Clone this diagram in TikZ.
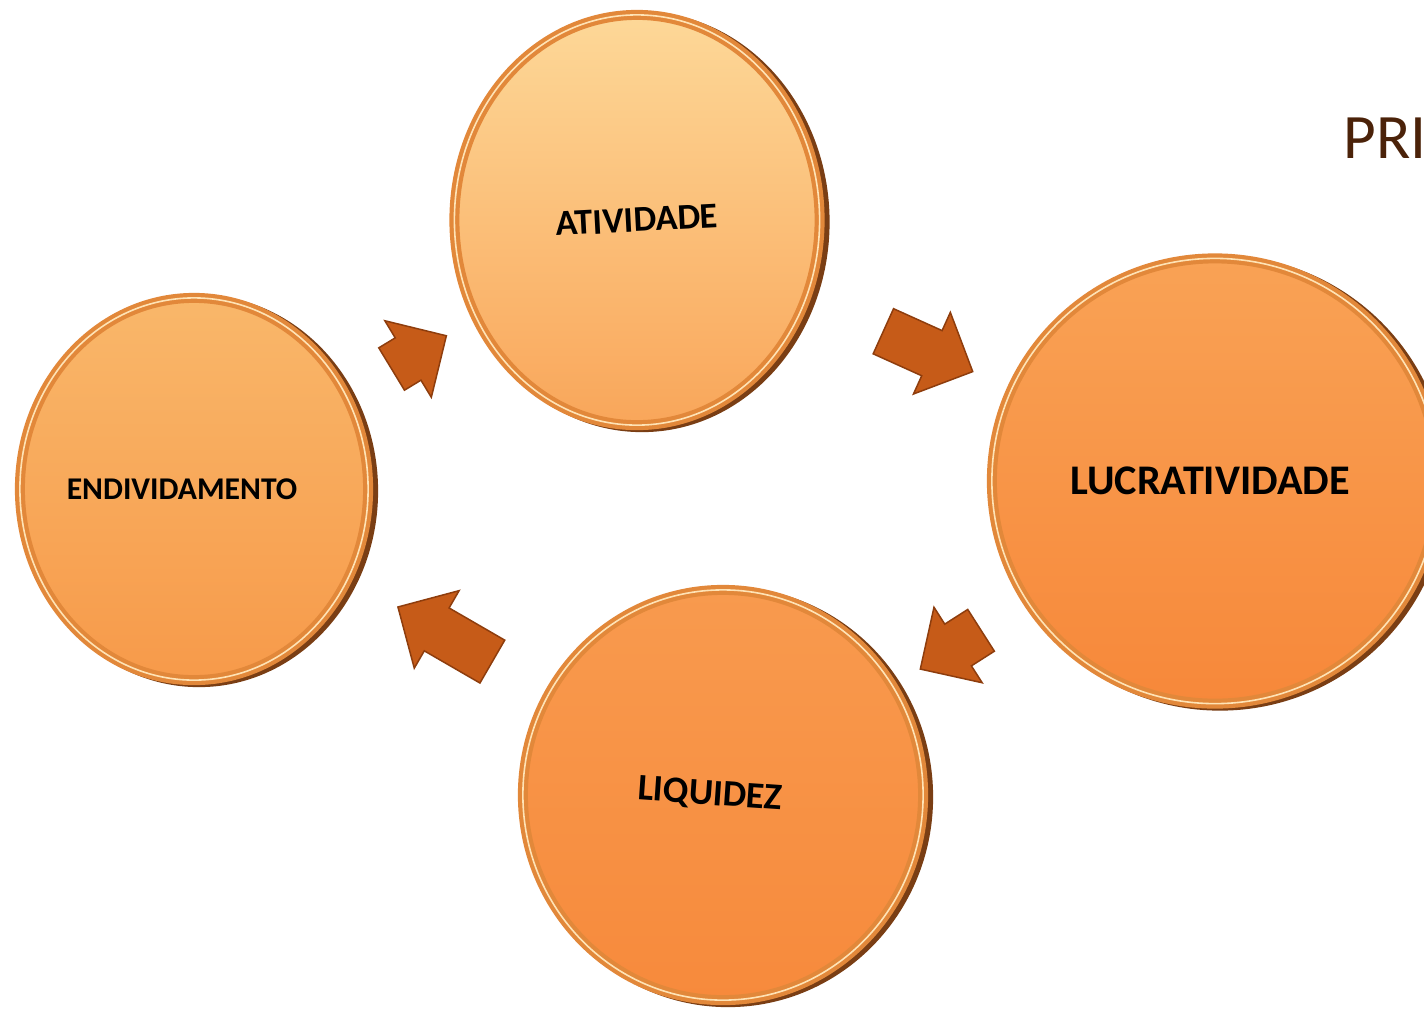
\documentclass[tikz,border=0pt]{standalone}
\usepackage{fontspec}
\setmainfont{Carlito}
\usepackage{graphicx}
\usetikzlibrary{shapes.geometric,shapes.arrows}

\definecolor{ativtop}{HTML}{FDD898}
\definecolor{ativbot}{HTML}{F9A65A}
\definecolor{endtop}{HTML}{F9B76A}
\definecolor{endbot}{HTML}{F79A4A}
\definecolor{luctop}{HTML}{F9A255}
\definecolor{lucbot}{HTML}{F7883A}
\definecolor{liqtop}{HTML}{F89A4E}
\definecolor{liqbot}{HTML}{F78A3C}
\definecolor{discrim}{HTML}{E2883A}
\definecolor{discshine}{HTML}{FFE3B5}
\definecolor{discedge}{HTML}{7A3E14}
\definecolor{arrowfill}{HTML}{C65B18}
\definecolor{arrowline}{HTML}{8E3D0D}
\definecolor{titlebrown}{HTML}{4B2209}

\tikzset{
  disc/.style={ellipse, inner sep=0pt, text=black,
    preaction={draw=discedge, line width=0.1cm,
      transform canvas={xshift=0.05cm, yshift=-0.02cm}},
    postaction={draw=discrim, line width=0.1cm},
    postaction={draw=discshine, line width=0.016cm}},
  cyclearrow/.style={single arrow, draw=arrowline, fill=arrowfill,
    line width=0.015cm, inner xsep=0pt, inner ysep=0.24cm,
    minimum width=0.88cm, single arrow head extend=0.2cm,
    sloped, allow upside down}
}

\begin{document}
\begin{tikzpicture}[x=0.01cm, y=-0.01cm]
    \useasboundingbox (0,0) rectangle (1424,1008);
    \clip (0,0) rectangle (1424,1008);

    % the four discs
    \node[disc, minimum width=3.65cm, minimum height=4.10cm,
      top color=ativtop, bottom color=ativbot,
      font={\fontsize{10.3}{12}\selectfont\bfseries}] (ativ) at (637,220)
      {\rotatebox{3}{ATIVIDADE}};
    \node[disc, minimum width=3.48cm, minimum height=3.82cm,
      top color=endtop, bottom color=endbot,
      font={\fontsize{9}{11}\selectfont\bfseries}] (endiv) at (194,489)
      {\hspace*{-0.24cm}ENDIVIDAMENTO};
    \node[disc, minimum width=4.46cm, minimum height=4.45cm,
      top color=luctop, bottom color=lucbot,
      font={\fontsize{12}{14}\selectfont\bfseries}] (lucr) at (1215,481)
      {\hspace*{-0.1cm}LUCRATIVIDADE};
    \node[disc, minimum width=4.00cm, minimum height=4.10cm,
      top color=liqtop, bottom color=liqbot,
      font={\fontsize{10.6}{12}\selectfont\bfseries}] (liq) at (723,795)
      {\hspace*{-0.26cm}\raisebox{-0.14cm}{\rotatebox{-4}{LIQUIDEZ}}};

    % arrows of the cycle
    \path (endiv.center) -- node[cyclearrow, pos=0.484, minimum height=0.64cm] (endtoativ) {} (ativ.center);
    \path (ativ.center) -- node[cyclearrow, pos=0.484, minimum height=0.98cm] (ativtolucr) {} (lucr.center);
    \path (lucr.center) -- node[cyclearrow, pos=0.516, minimum height=0.72cm] (lucrtoliq) {} (liq.center);
    \path (liq.center) -- node[cyclearrow, pos=0.505, minimum height=1.09cm] (liqtoendiv) {} (endiv.center);

    % title, cut at the right edge
    \node[anchor=base west, inner sep=0pt, text=titlebrown,
      font={\fontsize{18}{20}\selectfont}] (title) at (1343,158) {PRI};
\end{tikzpicture}
\end{document}
